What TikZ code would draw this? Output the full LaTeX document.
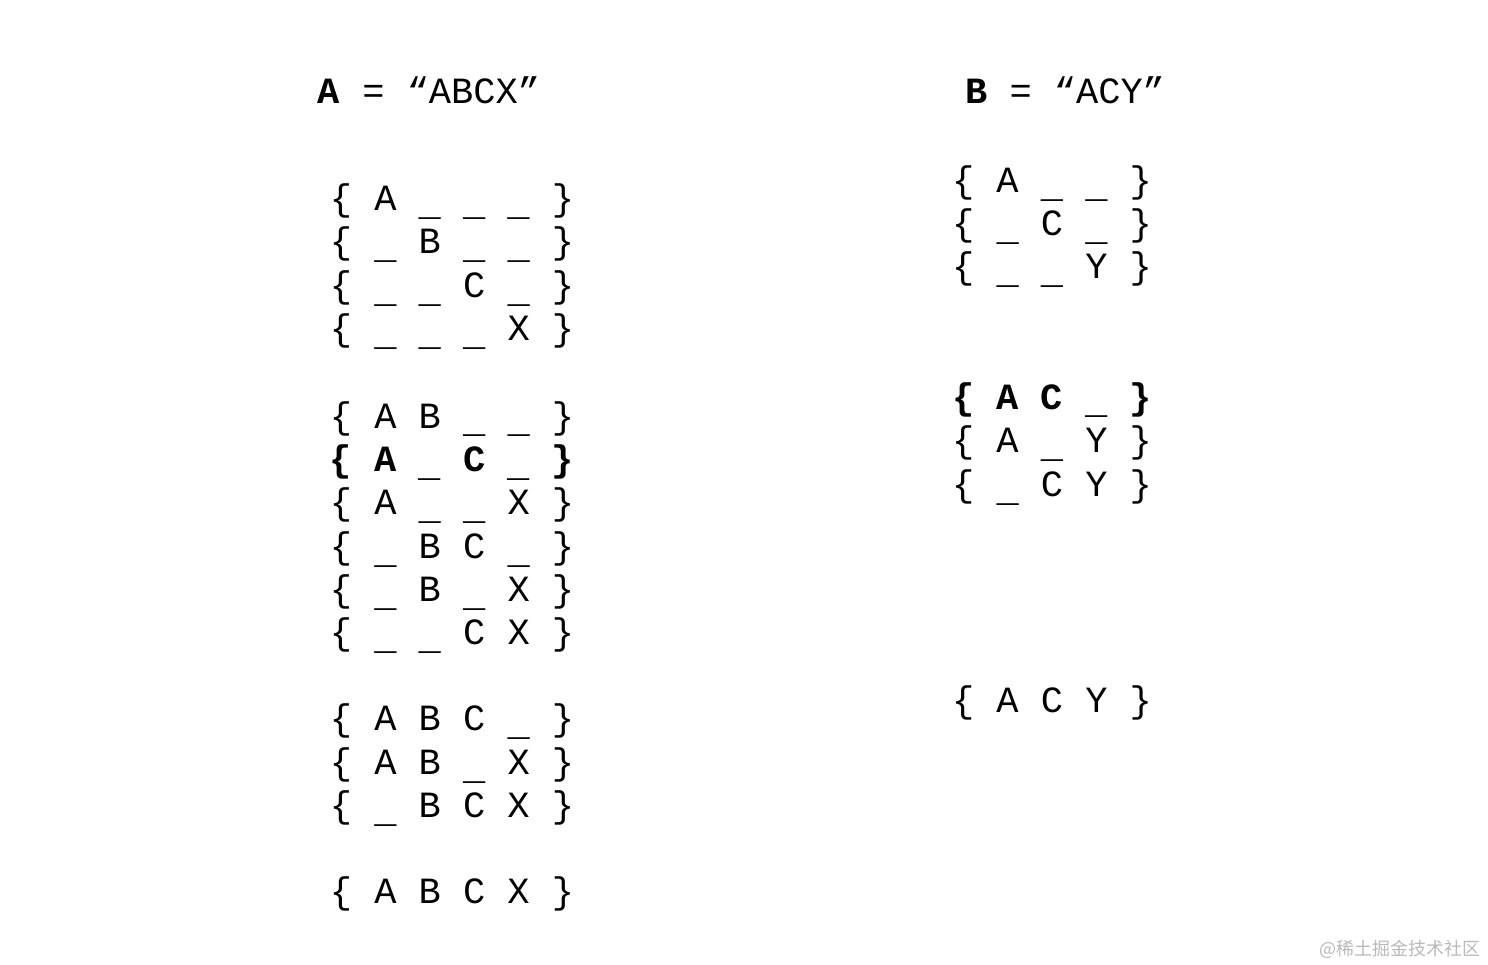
\documentclass[tikz,border=0pt]{standalone}
\usepackage{fontspec}
\newfontfamily\codefont{Liberation Mono}
\newfontfamily\cjkfont{Noto Sans CJK SC}
\newcommand\cdreg{\codefont\fontsize{37}{40}\selectfont}
\newcommand\cdbold{\codefont\bfseries\fontsize{37}{40}\selectfont}
\newcommand\us{\raisebox{-5pt}{\_}}
\tikzset{row/.style={anchor=base, inner sep=0pt}}
\begin{document}
\begin{tikzpicture}[x=1pt,y=-1pt]
\useasboundingbox (0,0) rectangle (1488,965);
% titles
\node[row,font=\cdreg] (ta) at (429,103.5) {{\cdbold A} = “ABCX”};
\node[row,font=\cdreg] (tb) at (1065,103.5) {{\cdbold B} = “ACY”};
% subsets of A
\foreach \y/\f/\p/\q/\r/\s [count=\i] in {199/\cdreg/A/\us/\us/\us, 242/\cdreg/\us/B/\us/\us,
	286/\cdreg/\us/\us/C/\us, 329/\cdreg/\us/\us/\us/X, 416/\cdreg/A/B/\us/\us, 459/\cdbold/A/\us/C/\us,
	502/\cdreg/A/\us/\us/X, 546/\cdreg/\us/B/C/\us, 589/\cdreg/\us/B/\us/X, 632/\cdreg/\us/\us/C/X,
	718/\cdreg/A/B/C/\us, 762/\cdreg/A/B/\us/X, 805/\cdreg/\us/B/C/X, 891/\cdreg/A/B/C/X} {
	\node[row,font=\f] (a\i) at (452,{\y+12}) {\{ \p{} \q{} \r{} \s{} \}};
}
% subsets of B
\foreach \y/\f/\p/\q/\r [count=\i] in {181/\cdreg/A/\us/\us, 224/\cdreg/\us/C/\us,
	267/\cdreg/\us/\us/Y, 397/\cdbold/A/C/\us, 440/\cdreg/A/\us/Y, 484/\cdreg/\us/C/Y,
	700/\cdreg/A/C/Y} {
	\node[row,font=\f] (b\i) at (1052,{\y+12}) {\{ \p{} \q{} \r{} \}};
}
\node[row,font=\cjkfont\fontsize{18}{20}\selectfont,anchor=base east,text=gray!55] (wm) at (1481,955) {@稀土掘金技术社区};
\end{tikzpicture}
\end{document}
